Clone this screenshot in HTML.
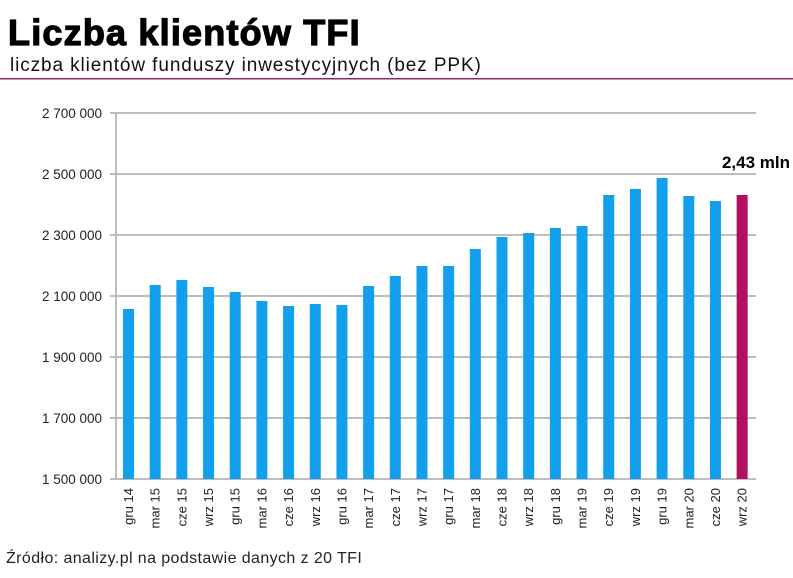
<!DOCTYPE html>
<html><head><meta charset="utf-8"><style>
body{margin:0;background:#fff;width:793px;height:573px;overflow:hidden;font-family:"Liberation Sans",sans-serif}
</style></head><body>
<svg width="793" height="573" xmlns="http://www.w3.org/2000/svg" font-family="Liberation Sans, sans-serif">
<text x="8" y="45" font-size="36" font-weight="bold" fill="#000" stroke="#000" stroke-width="1.2" letter-spacing="1.2">Liczba klientów TFI</text>
<text x="10" y="71" font-size="19" fill="#111" letter-spacing="0.9">liczba klientów funduszy inwestycyjnych (bez PPK)</text>
<rect x="0" y="78" width="793" height="1.5" fill="#8a2a66"/>
<g stroke="#bdbdbd" stroke-width="2">
<line x1="110" y1="113" x2="756" y2="113"/>
<line x1="110" y1="174" x2="756" y2="174"/>
<line x1="110" y1="235" x2="756" y2="235"/>
<line x1="110" y1="296" x2="756" y2="296"/>
<line x1="110" y1="357" x2="756" y2="357"/>
<line x1="110" y1="418" x2="756" y2="418"/>
<line x1="110" y1="479" x2="756" y2="479"/>
<line x1="116" y1="113" x2="116" y2="479"/>
</g>
<g font-size="13.5" fill="#222" text-anchor="end">
<text x="102" y="118">2 700 000</text>
<text x="102" y="179">2 500 000</text>
<text x="102" y="240">2 300 000</text>
<text x="102" y="301">2 100 000</text>
<text x="102" y="362">1 900 000</text>
<text x="102" y="423">1 700 000</text>
<text x="102" y="484">1 500 000</text>
</g>
<g fill="#12a0ec" id="bars"></g>
<g id="labels" font-size="13" fill="#222" text-anchor="end"></g>
<text x="790" y="168" font-size="17" font-weight="bold" text-anchor="end">2,43 mln</text>
<text x="6" y="563" font-size="16" fill="#222" letter-spacing="0.4">Źródło: analizy.pl na podstawie danych z 20 TFI</text>
<script>
var tops=[309,285,280,287,292,301,306,304,305,286,276,266,266,249,237,233,228,226,195,189,178,196,201,195];
var labs=["gru 14","mar 15","cze 15","wrz 15","gru 15","mar 16","cze 16","wrz 16","gru 16","mar 17","cze 17","wrz 17","gru 17","mar 18","cze 18","wrz 18","gru 18","mar 19","cze 19","wrz 19","gru 19","mar 20","cze 20","wrz 20"];
var ns="http://www.w3.org/2000/svg",b=document.getElementById("bars"),l=document.getElementById("labels");
for(var i=0;i<24;i++){var cx=128.5+i*26.68;
var r=document.createElementNS(ns,"rect");r.setAttribute("x",cx-5.5);r.setAttribute("y",tops[i]);r.setAttribute("width",11);r.setAttribute("height",479-tops[i]);if(i==23)r.setAttribute("fill","#b0105f");b.appendChild(r);
var t=document.createElementNS(ns,"text");t.setAttribute("transform","translate("+(cx+4.5)+",488) rotate(-90)");t.textContent=labs[i];l.appendChild(t);}
</script>
</svg>
</body></html>
